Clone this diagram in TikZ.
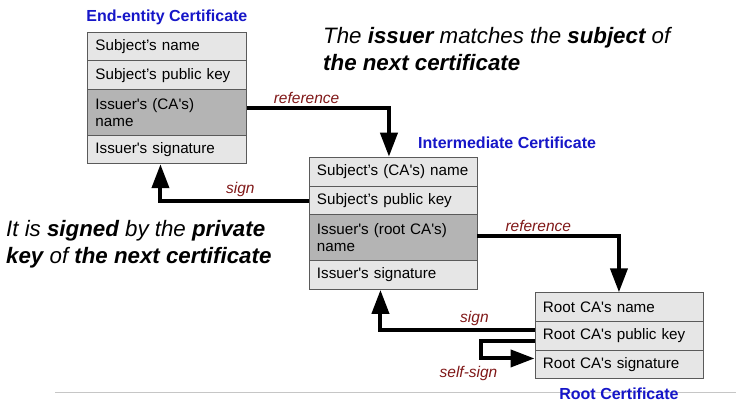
\documentclass[tikz,border=0pt]{standalone}
\usepackage{fontspec}
\setmainfont{Liberation Sans}
\usetikzlibrary{arrows.meta,positioning}
\definecolor{certblue}{RGB}{22,22,200}
\definecolor{lblred}{RGB}{128,24,24}
\definecolor{cellgray}{RGB}{230,230,230}
\definecolor{darkcell}{RGB}{180,180,180}
\definecolor{edgegray}{RGB}{90,90,90}
\newcommand{\sq}{\textquotesingle}

\begin{document}
\begin{tikzpicture}
  [x=1pt,y=-1pt,
   cell/.style={rectangle,draw=edgegray,line width=0.9pt,fill=cellgray,anchor=north west,
     inner xsep=8pt,inner ysep=0pt,align=left,font=\fontsize{15.2}{17.5}\selectfont},
   key/.style={cell,fill=darkcell},
   arr/.style={line width=4pt,-{Triangle[length=24pt,width=17pt]}},
   lbl/.style={text=lblred,inner sep=2pt,font=\fontsize{15.5}{18}\selectfont\itshape},
   ttl/.style={text=certblue,inner sep=0pt,font=\fontsize{16}{18}\selectfont\bfseries},
   note/.style={align=left,inner sep=0pt,anchor=west,font=\fontsize{22.3}{27}\selectfont\itshape}]
  \useasboundingbox (0,0) rectangle (744,412);

  % end-entity
  \node[cell,minimum width=159pt,text width=143pt,minimum height=28.6pt] (ee1) at (87,31.7) {Subject's name};
  \node[cell,minimum width=159pt,text width=143pt,minimum height=29pt]   (ee2) at (87,60.3) {Subject's public key};
  \node[key, minimum width=159pt,text width=143pt,minimum height=45.7pt] (ee3) at (87,89.3) {Issuer\sq s (CA\sq s)\\name};
  \node[cell,minimum width=159pt,text width=143pt,minimum height=28.3pt] (ee4) at (87,135)  {Issuer\sq s signature};
  \node[ttl,above=7pt of ee1] (eet) {End-entity Certificate};

  % intermediate
  \node[cell,minimum width=168pt,text width=152pt,minimum height=29.3pt] (im1) at (308.5,156.7) {Subject's (CA\sq s) name};
  \node[cell,minimum width=168pt,text width=152pt,minimum height=28.3pt] (im2) at (308.5,186)   {Subject's public key};
  \node[key, minimum width=168pt,text width=152pt,minimum height=45.7pt] (im3) at (308.5,214.3) {Issuer\sq s (root CA\sq s)\\name};
  \node[cell,minimum width=168pt,text width=152pt,minimum height=29pt]   (im4) at (308.5,260)   {Issuer\sq s signature};
  \node[ttl,anchor=west] (imt) at (418,143) {Intermediate Certificate};

  % root
  \node[cell,minimum width=168pt,text width=152pt,minimum height=28.7pt] (rt1) at (534.5,292.3) {Root CA\sq s name};
  \node[cell,minimum width=168pt,text width=152pt,minimum height=28.7pt] (rt2) at (534.5,321)   {Root CA\sq s public key};
  \node[cell,minimum width=168pt,text width=152pt,minimum height=28.6pt] (rt3) at (534.5,349.7) {Root CA\sq s signature};

  \draw[gray!45,line width=1pt] (55,392.5) -- (736,392.5);
  \node[ttl,below=9pt of rt3] (rtt) {Root Certificate};

  \draw[arr] ([yshift=5pt]ee3.east) -| node[lbl,pos=0.21,above] {reference} ([xshift=-4pt]im1.north);
  \draw[arr] (im2.west) -| node[lbl,pos=0.23,above] {sign} ([xshift=-6.5pt]ee4.south);
  \draw[arr] ([yshift=2pt]im3.east) -| node[lbl,pos=0.215,above] {reference} (rt1.north);
  \draw[arr] ([yshift=6pt]rt2.west) -| node[lbl,pos=0.195,above] {sign} ([xshift=-12.5pt]im4.south);
  \draw[arr] ([yshift=-5pt]rt2.west) -- ++(-54,0) |- node[lbl,pos=0.5,below=4pt,xshift=-12pt] {self-sign} ([yshift=6pt]rt3.west);

  \node[note] (n1) at (323,49) {The \textbf{issuer} matches the \textbf{subject} of\\\textbf{the next certificate}};
  \node[note] (n2) at (6,244) {It is \textbf{signed} by the \textbf{private}\\\textbf{key} of \textbf{the next certificate}};
\end{tikzpicture}
\end{document}
